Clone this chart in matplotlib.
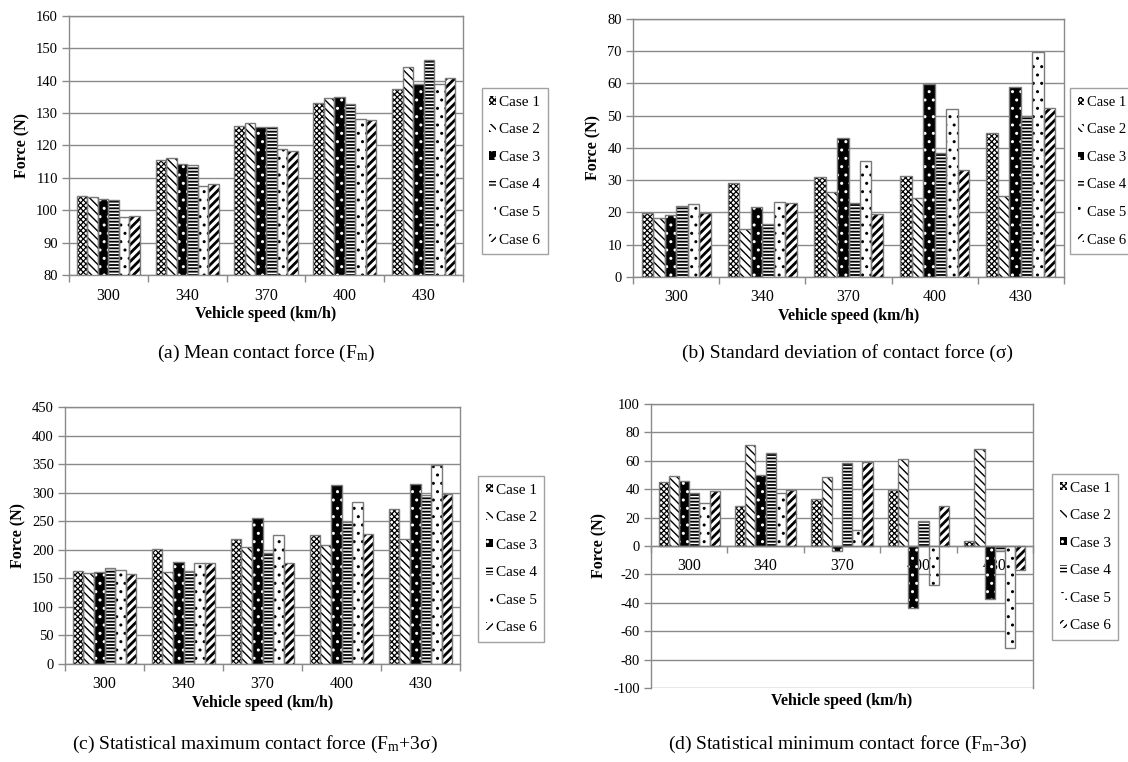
import matplotlib
matplotlib.use('Agg')
import matplotlib.pyplot as plt
from matplotlib.patches import Patch
import numpy as np

#-------------------------------------------------------------------------------
# Data (one row per case, one value per speed).
#-------------------------------------------------------------------------------

speeds = ['300', '340', '370', '400', '430']
cases = ['Case 1', 'Case 2', 'Case 3', 'Case 4', 'Case 5', 'Case 6']

# (a) mean contact force
mean_force = [
    [104.3, 115.6, 126.1, 133.0, 137.6],
    [104.1, 116.0, 127.1, 134.7, 144.4],
    [103.5, 114.3, 125.8, 134.9, 139.1],
    [103.2, 114.1, 125.8, 132.8, 146.3],
    [98.0, 107.5, 118.9, 128.1, 139.1],
    [98.1, 108.0, 118.3, 127.9, 140.8],
]

# (b) standard deviation
std_force = [
    [19.9, 29.2, 31.1, 31.4, 44.7],
    [18.4, 15.0, 26.3, 24.4, 25.2],
    [19.3, 21.6, 43.2, 59.8, 58.8],
    [22.1, 16.5, 22.8, 38.6, 49.8],
    [22.5, 23.3, 36.0, 52.2, 69.8],
    [19.9, 23.1, 19.6, 33.3, 52.3],
]

# (c) statistical maximum
max_force = [
    [162.4, 202.1, 219.6, 226.6, 271.6],
    [158.9, 160.6, 205.6, 207.9, 219.6],
    [160.6, 178.2, 255.3, 313.1, 315.4],
    [168.8, 162.4, 193.9, 248.8, 296.1],
    [164.7, 176.4, 226.1, 284.5, 349.3],
    [157.7, 176.4, 176.4, 227.2, 297.3],
]

# (d) statistical minimum
min_force = [
    [45.3, 28.3, 32.8, 39.2, 3.5],
    [49.5, 71.2, 48.6, 61.3, 68.4],
    [45.8, 50.0, -3.3, -43.9, -37.5],
    [37.3, 65.8, 58.3, 17.9, -3.8],
    [30.4, 37.5, 11.6, -27.6, -71.7],
    [38.4, 39.2, 59.4, 28.3, -17.0],
]

#-------------------------------------------------------------------------------

grey = '#8a8a8a'
edge_grey = '#7a7a7a'
SIGMA = '\u03c3'

# Fill pattern per case: face colour, hatch colour, hatch, hatch line width.
styles = [
    ('white', 'black', 'xxxxxx', 0.9),
    ('white', 'black', '\\\\\\\\', 1.0),
    ('black', 'white', '..', 1.0),
    ('white', 'black', '-----', 1.3),
    ('white', 'black', '..', 1.0),
    ('white', 'black', '////', 2.0),
]

plt.rcParams['font.family'] = ['Liberation Serif', 'DejaVu Serif']
plt.rcParams['mathtext.fontset'] = 'custom'
plt.rcParams['mathtext.rm'] = 'Liberation Serif'
plt.rcParams['mathtext.it'] = 'Liberation Serif:italic'
plt.rcParams['axes.unicode_minus'] = False


def set_hatch_lw(patch, lw):
    # Per-artist hatch width where this matplotlib supports it.
    if hasattr(patch, 'set_hatch_linewidth'):
        patch.set_hatch_linewidth(lw)


def draw_bars(ax, values):
    x = np.arange(len(speeds))
    width = 0.8 / len(cases)
    for i, vals in enumerate(values):
        face, hcol, hatch, hlw = styles[i]
        pos = x - 0.4 + width * (i + 0.5)
        with plt.rc_context({'hatch.linewidth': hlw}):
            bars = ax.bar(pos, vals, width, color=face, edgecolor=hcol,
                          hatch=hatch, linewidth=0, zorder=2)
        for b in bars:
            set_hatch_lw(b, hlw)
        ax.bar(pos, vals, width, fill=False, edgecolor=edge_grey,
               linewidth=1.0, zorder=3)


def setup_axes(ax, ymin, ymax, step, zero_axis=False):
    ax.set_xlim(-0.5, len(speeds) - 0.5)
    ax.set_ylim(ymin, ymax)
    ax.set_yticks(np.arange(ymin, ymax + step / 2, step))
    ax.set_xticks(np.arange(len(speeds)))
    ax.set_xticklabels(speeds)
    ax.set_xticks(np.arange(len(speeds) + 1) - 0.5, minor=True)
    ax.tick_params(axis='x', which='major', length=0, pad=9, labelsize=11.5)
    ax.tick_params(axis='x', which='minor', length=5, color=grey, width=1)
    ax.tick_params(axis='y', length=5, color=grey, width=1, labelsize=10.5,
                   pad=3)
    ax.grid(axis='y', color=grey, linewidth=1)
    ax.set_axisbelow(True)
    for s in ax.spines.values():
        s.set_color(grey)
        s.set_linewidth(1)
    if zero_axis:
        ax.spines['bottom'].set_position(('data', 0))
    ax.set_ylabel('Force (N)', fontsize=11.5, fontweight='bold', labelpad=4)


def add_legend(fig, x, y, size=11):
    handles = []
    for face, hcol, hatch, hlw in styles:
        with plt.rc_context({'hatch.linewidth': min(hlw, 1.0)}):
            p = Patch(facecolor=face, edgecolor=hcol, hatch=hatch,
                      linewidth=0)
        set_hatch_lw(p, min(hlw, 1.0))
        handles.append(p)
    leg = fig.legend(handles, cases, loc='upper left', bbox_to_anchor=(x, y),
                     fontsize=size, frameon=True, fancybox=False,
                     edgecolor=grey, handlelength=0.45, handleheight=0.45,
                     handletextpad=0.2, labelspacing=0.95 * 11 / size,
                     borderpad=0.5 * 11 / size, borderaxespad=0)
    leg.get_frame().set_linewidth(1)


def main():
    W, H = 1128, 762
    fig = plt.figure(figsize=(W / 100, H / 100), dpi=100)

    # Axes boxes in pixels: left, top, right, bottom.
    boxes = [(69, 16, 463, 275), (633, 19, 1064, 277),
             (65, 407, 460, 664), (651, 404, 1033, 688)]
    axes = []
    for l, t, r, b in boxes:
        axes.append(fig.add_axes([l / W, 1 - b / H, (r - l) / W, (b - t) / H]))

    draw_bars(axes[0], mean_force)
    setup_axes(axes[0], 80, 160, 10)
    draw_bars(axes[1], std_force)
    setup_axes(axes[1], 0, 80, 10)
    draw_bars(axes[2], max_force)
    setup_axes(axes[2], 0, 450, 50)
    draw_bars(axes[3], min_force)
    setup_axes(axes[3], -100, 100, 20, zero_axis=True)

    for ax in axes[:3]:
        ax.set_xlabel('Vehicle speed (km/h)', fontsize=11.5,
                      fontweight='bold', labelpad=2)
    # Panel (d) has its axis title below the plot area.
    fig.text((651 + 1033) / 2 / W, 1 - 701 / H, 'Vehicle speed (km/h)',
             fontsize=11.5, fontweight='bold', ha='center', va='center')

    add_legend(fig, 481.7 / W, 1 - 88.3 / H)
    add_legend(fig, 1070 / W, 1 - 88.3 / H, size=10.5)
    add_legend(fig, 478 / W, 1 - 476 / H)
    add_legend(fig, 1052 / W, 1 - 474 / H)

    captions = [
        (266, 353, r'(a) Mean contact force (F$_\mathrm{m}$)'),
        (848, 353, '(b) Standard deviation of contact force (' + SIGMA + ')'),
        (255, 744, r'(c) Statistical maximum contact force (F$_\mathrm{m}$+3'
         + SIGMA + ')'),
        (848, 744, r'(d) Statistical minimum contact force (F$_\mathrm{m}$-3'
         + SIGMA + ')'),
    ]
    for cx, cy, txt in captions:
        fig.text(cx / W, 1 - cy / H, txt, fontsize=14, ha='center',
                 va='center')

    fig.savefig('out.png', dpi=100)
    plt.close(fig)


if __name__ == '__main__':
    main()
